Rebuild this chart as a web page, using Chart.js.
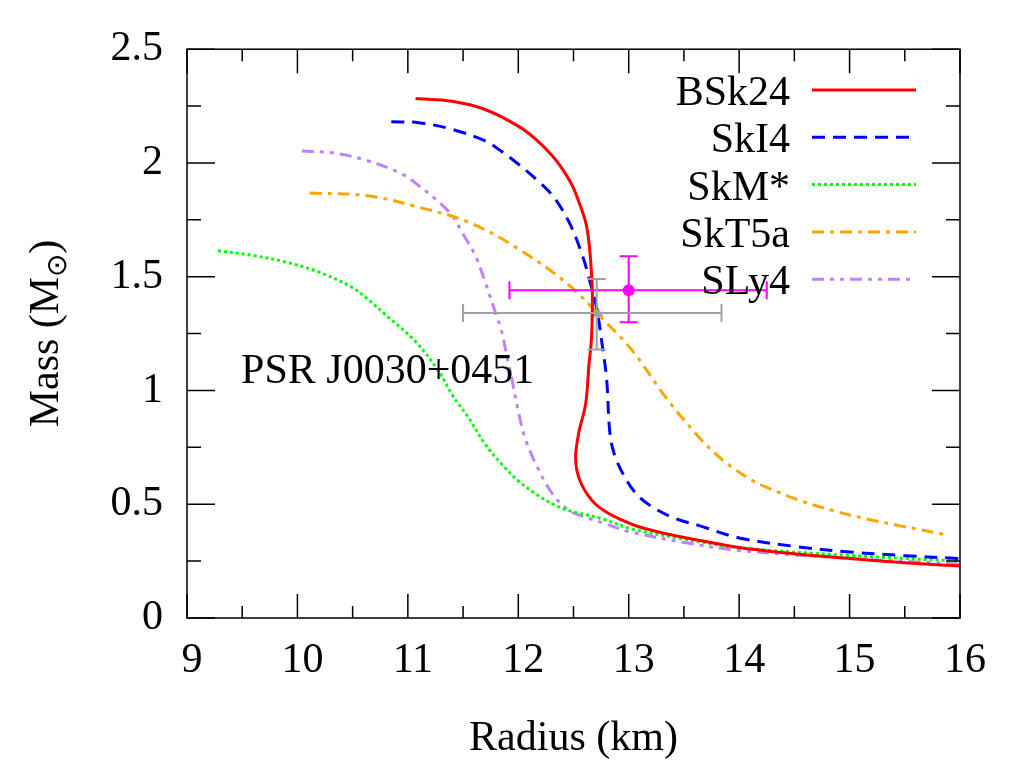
<!DOCTYPE html>
<html>
<head>
<meta charset="utf-8">
<script src="https://cdn.jsdelivr.net/npm/chart.js@4.4.1/dist/chart.umd.min.js"></script>
<style>
  html, body { margin: 0; padding: 0; background: #fff; }
  canvas { display: block; }
</style>
</head>
<body>
<canvas id="graph0" width="1024" height="768"></canvas>
<script>
// mass-radius curves (radius in km, mass in solar masses)
const bsk24R = [11.07, 11.40, 11.70, 12.0, 12.16, 12.31, 12.40, 12.49, 12.55, 12.61, 12.64, 12.66, 12.67, 12.67, 12.66, 12.64, 12.61, 12.55, 12.52, 12.53, 12.57, 12.63, 12.70, 12.80, 12.92, 13.10, 13.34, 13.6, 14.0, 14.5, 15.0, 15.5, 16.0];
const bsk24M = [2.283, 2.271, 2.235, 2.162, 2.104, 2.031, 1.973, 1.90, 1.827, 1.74, 1.652, 1.536, 1.45, 1.333, 1.21, 1.113, 0.94, 0.82, 0.72, 0.65, 0.59, 0.54, 0.50, 0.465, 0.435, 0.40, 0.37, 0.345, 0.31, 0.282, 0.261, 0.243, 0.228];

const ski4R = [10.85, 11.10, 11.40, 11.70, 11.85, 12.0, 12.16, 12.31, 12.46, 12.58, 12.65, 12.71, 12.76, 12.80, 12.83, 12.87, 12.95, 13.07, 13.22, 13.43, 13.64, 14.0, 14.5, 15.0, 15.5, 16.0];
const ski4M = [2.181, 2.177, 2.148, 2.097, 2.05, 1.995, 1.929, 1.857, 1.74, 1.594, 1.477, 1.361, 1.20, 1.05, 0.81, 0.72, 0.632, 0.545, 0.486, 0.436, 0.406, 0.352, 0.315, 0.29, 0.274, 0.261];

const skmR = [9.28, 9.59, 9.89, 10.19, 10.49, 10.64, 10.80, 11.07, 11.28, 11.40, 11.55, 11.70, 11.85, 12.0, 12.16, 12.31, 12.46, 12.76, 13.04, 13.49, 14.0, 15.0, 16.0];
const skmM = [1.614, 1.594, 1.565, 1.521, 1.455, 1.40, 1.332, 1.215, 1.084, 0.982, 0.88, 0.764, 0.676, 0.603, 0.545, 0.501, 0.472, 0.436, 0.39, 0.348, 0.309, 0.275, 0.25];

const skt5aR = [10.11, 10.64, 11.10, 11.55, 12.0, 12.46, 12.76, 13.04, 13.34, 13.64, 13.79, 13.94, 14.10, 14.25, 14.55, 14.85, 15.15, 15.45, 15.76, 15.88];
const skt5aM = [1.868, 1.856, 1.805, 1.74, 1.623, 1.463, 1.317, 1.171, 0.967, 0.792, 0.72, 0.661, 0.61, 0.574, 0.516, 0.472, 0.436, 0.406, 0.377, 0.365];

const sly4R = [10.04, 10.34, 10.64, 10.95, 11.10, 11.25, 11.40, 11.49, 11.61, 11.70, 11.79, 11.85, 11.90, 11.94, 12.0, 12.06, 12.16, 12.31, 12.46, 12.61, 12.79, 13.0, 13.49, 14.0, 15.0, 16.0];
const sly4M = [2.053, 2.043, 2.009, 1.951, 1.90, 1.841, 1.77, 1.696, 1.594, 1.477, 1.346, 1.259, 1.142, 1.055, 0.909, 0.793, 0.676, 0.545, 0.472, 0.443, 0.414, 0.38, 0.333, 0.297, 0.262, 0.237];

const eosNames = ["BSk24", "SkI4", "SkM*", "SkT5a", "SLy4"];
const eosColors = ["#ff0000", "#0000ff", "#00ff00", "#ffa500", "#c080ff"];
const eosDashes = [[], [13, 8], [3, 3], [12, 6, 4, 6], [12, 6, 4, 6, 4, 6]];

// PSR J0030+0451 measurements with error bars
const obsR = [13.0, 12.71];
const obsM = [1.44, 1.34];
const obsRLo = [11.92, 11.50];
const obsRHi = [14.25, 13.84];
const obsMLo = [1.30, 1.18];
const obsMHi = [1.59, 1.49];
const obsColors = ["#ff00ff", "#a0a0a0"];
const obsStyles = ["circle", "triangle"];

const xTicks = [9, 10, 11, 12, 13, 14, 15, 16];
const yTicks = [0, 0.5, 1, 1.5, 2, 2.5];

const FONT = "Liberation Serif";

function toPoints(rs, ms){
    return rs.map((r, i) => ({x: r, y: ms[i]}))
}

const curves = [[bsk24R, bsk24M], [ski4R, ski4M], [skmR, skmM], [skt5aR, skt5aM], [sly4R, sly4M]];

let datasets = curves.map((c, i) => ({
    label: eosNames[i],
    data: toPoints(c[0], c[1]),
    showLine: true,
    borderColor: eosColors[i],
    borderWidth: 3,
    borderDash: eosDashes[i],
    borderCapStyle: "butt",
    pointRadius: 0,
    tension: 0.35,
    fill: false
}));

for (let i = 0; i < obsR.length; i++) {
    datasets.push({
        label: "obs" + i,
        data: [{x: obsR[i], y: obsM[i]}],
        showLine: false,
        pointStyle: obsStyles[i],
        pointRadius: i === 0 ? 6 : 8,
        backgroundColor: obsColors[i],
        borderColor: obsColors[i],
        borderWidth: 0
    });
}

function isMult(v, step){
    return Math.abs(v / step - Math.round(v / step)) < 1e-6;
}

// box, inward ticks on all four sides, error bars, legend and labels
const frame = {
    id: "frame",
    afterDatasetsDraw(chart){
        const ctx = chart.ctx;
        const a = chart.chartArea;
        const xs = chart.scales.x, ys = chart.scales.y;
        ctx.save();

        // error bars
        ctx.lineWidth = 2;
        for (let i = 0; i < obsR.length; i++) {
            ctx.strokeStyle = obsColors[i];
            const cx = xs.getPixelForValue(obsR[i]);
            const cy = ys.getPixelForValue(obsM[i]);
            const x0 = xs.getPixelForValue(obsRLo[i]), x1 = xs.getPixelForValue(obsRHi[i]);
            const y0 = ys.getPixelForValue(obsMLo[i]), y1 = ys.getPixelForValue(obsMHi[i]);
            ctx.beginPath();
            ctx.moveTo(x0, cy); ctx.lineTo(x1, cy);
            ctx.moveTo(x0, cy - 9); ctx.lineTo(x0, cy + 9);
            ctx.moveTo(x1, cy - 9); ctx.lineTo(x1, cy + 9);
            ctx.moveTo(cx, y0); ctx.lineTo(cx, y1);
            ctx.moveTo(cx - 9, y0); ctx.lineTo(cx + 9, y0);
            ctx.moveTo(cx - 9, y1); ctx.lineTo(cx + 9, y1);
            ctx.stroke();
        }

        // frame
        ctx.strokeStyle = "#000";
        ctx.lineWidth = 1.5;
        ctx.strokeRect(a.left, a.top, a.right - a.left, a.bottom - a.top);

        ctx.beginPath();
        for (let v = 9; v <= 16.001; v += 0.5) {
            const px = xs.getPixelForValue(v);
            const len = isMult(v, 1) ? 24 : 12;
            ctx.moveTo(px, a.bottom); ctx.lineTo(px, a.bottom - len);
            ctx.moveTo(px, a.top); ctx.lineTo(px, a.top + len);
        }
        for (let v = 0; v <= 2.501; v += 0.25) {
            const py = ys.getPixelForValue(v);
            const len = isMult(v, 0.5) ? 28 : 14;
            ctx.moveTo(a.left, py); ctx.lineTo(a.left + len, py);
            ctx.moveTo(a.right, py); ctx.lineTo(a.right - len, py);
        }
        ctx.stroke();

        // legend, text to the left of the sample line
        ctx.font = "42px '" + FONT + "'";
        ctx.fillStyle = "#000";
        ctx.textAlign = "right";
        ctx.textBaseline = "alphabetic";
        for (let i = 0; i < eosNames.length; i++) {
            const ly = 90 + i * 47.3;
            ctx.fillText(eosNames[i], 790, ly + 15);
            ctx.beginPath();
            ctx.strokeStyle = eosColors[i];
            ctx.lineWidth = 3;
            ctx.setLineDash(eosDashes[i]);
            ctx.moveTo(812, ly); ctx.lineTo(916, ly);
            ctx.stroke();
        }
        ctx.setLineDash([]);

        // pulsar label
        ctx.textAlign = "left";
        ctx.fillText("PSR J0030+0451", xs.getPixelForValue(9.49), ys.getPixelForValue(1.035));

        // axis titles
        ctx.textAlign = "center";
        ctx.fillText("Radius (km)", (a.left + a.right) / 2, 750);

        ctx.translate(58, (a.top + a.bottom) / 2);
        ctx.rotate(-Math.PI / 2);
        const main = "Mass (M";
        ctx.font = "42px '" + FONT + "'";
        const w1 = ctx.measureText(main).width;
        ctx.font = "28px '" + FONT + "'";
        const w2 = ctx.measureText("\u2299").width;
        ctx.font = "42px '" + FONT + "'";
        const w3 = ctx.measureText(")").width;
        let sx = -(w1 + w2 + w3) / 2;
        ctx.textAlign = "left";
        ctx.fillText(main, sx, 0);
        ctx.font = "28px '" + FONT + "'";
        ctx.fillText("\u2299", sx + w1, 8);
        ctx.font = "42px '" + FONT + "'";
        ctx.fillText(")", sx + w1 + w2, 0);
        ctx.restore();
    }
};

new Chart("graph0", {
    type: "scatter",
    data: {datasets: datasets},
    options: {
        responsive: false,
        animation: false,
        devicePixelRatio: 1,
        layout: {padding: {top: 47, right: 64, left: 0, bottom: 0}},
        plugins: {
            legend: {display: false},
            tooltip: {enabled: false}
        },
        scales: {
            x: {
                type: "linear",
                min: 9,
                max: 16,
                grid: {display: false, drawTicks: false},
                border: {display: false},
                ticks: {
                    stepSize: 0.5,
                    autoSkip: false,
                    maxRotation: 0,
                    padding: 18,
                    labelOffset: 5,
                    color: "#000",
                    font: {family: FONT, size: 42},
                    callback: v => xTicks.includes(v) ? String(v) : ""
                },
                afterFit: s => { s.height = 150; }
            },
            y: {
                type: "linear",
                min: 0,
                max: 2.5,
                grid: {display: false, drawTicks: false},
                border: {display: false},
                ticks: {
                    stepSize: 0.25,
                    autoSkip: false,
                    padding: 24,
                    color: "#000",
                    font: {family: FONT, size: 42},
                    callback: v => yTicks.some(t => Math.abs(t - v) < 1e-6) ? String(v) : ""
                },
                afterFit: s => { s.width = 187; }
            }
        }
    },
    plugins: [frame]
});
</script>
</body>
</html>
